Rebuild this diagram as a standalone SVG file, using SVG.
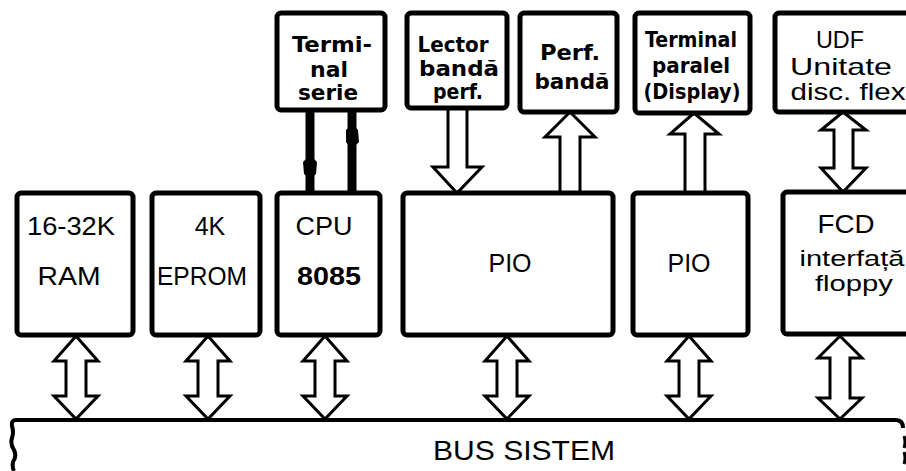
<svg xmlns="http://www.w3.org/2000/svg" width="906" height="471" viewBox="0 0 906 471">
<style>
.box{fill:#fff;stroke:#000;stroke-width:5;stroke-linejoin:round}
.arr{fill:#fff;stroke:#000;stroke-width:3;stroke-linejoin:miter}
.t{font-family:"Liberation Sans","DejaVu Sans",sans-serif;fill:#000;text-anchor:middle}
.m{font-size:25px}
.c{font-family:"DejaVu Sans Condensed","Liberation Sans",sans-serif;font-size:21px;font-weight:bold}
.u{font-size:24px}
.line{stroke:#000;stroke-width:9;fill:none}
</style>
<rect width="906" height="471" fill="#fff"/>

<g id="connectors">
  <line class="line" x1="310" y1="110" x2="310" y2="193"/>
  <line class="line" x1="352" y1="110" x2="352" y2="193"/>
  <path d="M310 155 L317 162 L316 174 L310 179 L304 174 L303 162 Z" fill="#000"/>
  <path d="M352 124 L358 130 L359 142 L352 149 L346 142 L346 130 Z" fill="#000"/>
  <path class="arr" d="M448 108 L448 167 L433 167 L457 193 L482 167 L467 167 L467 108 Z"/>
  <path class="arr" d="M560 193 L560 137 L545 137 L570 112 L595 137 L580 137 L580 193 Z"/>
  <path class="arr" d="M685 193 L685 134 L670 134 L694 113 L719 134 L705 134 L705 193 Z"/>
  <path class="arr" d="M843 112 L866 130 L853 130 L853 168 L866 168 L843 192 L821 168 L834 168 L834 130 L821 130 Z"/>
  <path class="arr" d="M76 336 L98 361 L86 361 L86 396 L98 396 L76 419 L54 396 L66 396 L66 361 L54 361 Z"/>
  <path class="arr" d="M208 336 L230 361 L218 361 L218 396 L230 396 L208 419 L186 396 L198 396 L198 361 L186 361 Z"/>
  <path class="arr" d="M325 336 L347 361 L335 361 L335 396 L347 396 L325 419 L303 396 L315 396 L315 361 L303 361 Z"/>
  <path class="arr" d="M507 336 L529 361 L517 361 L517 396 L529 396 L507 419 L485 396 L497 396 L497 361 L485 361 Z"/>
  <path class="arr" d="M689 336 L711 361 L699 361 L699 396 L711 396 L689 419 L667 396 L679 396 L679 361 L667 361 Z"/>
  <path class="arr" d="M840 336 L862 358 L850 358 L850 398 L862 398 L840 419 L818 398 L830 398 L830 358 L818 358 Z"/>
</g>

<g id="bus">
  <path d="M903 428 Q903 420 896 420 L16 420 Q11 420 12 426 Q14 432 12 438 Q10 444 14 450 Q17 456 13 462 Q12 467 14 471" fill="none" stroke="#000" stroke-width="4"/>
  <path d="M904 436 Q906 442 904 448 M904 452 Q906 458 904 464" fill="none" stroke="#000" stroke-width="3"/>
  <text class="t" x="524" y="460" font-size="27" textLength="182" lengthAdjust="spacingAndGlyphs">BUS  SISTEM</text>
</g>

<g id="terminal-serie">
  <rect class="box" x="277" y="13" width="108" height="97" rx="4"/>
  <text class="t c" x="332" y="52" textLength="80" lengthAdjust="spacingAndGlyphs">Termi-</text>
  <text class="t c" x="329" y="77" textLength="38" lengthAdjust="spacingAndGlyphs">nal</text>
  <text class="t c" x="328" y="100" textLength="60" lengthAdjust="spacingAndGlyphs">serie</text>
</g>
<g id="lector">
  <rect class="box" x="407" y="13" width="100" height="95" rx="4"/>
  <text class="t c" x="453" y="52" textLength="71" lengthAdjust="spacingAndGlyphs">Lector</text>
  <text class="t c" x="459" y="76" textLength="80" lengthAdjust="spacingAndGlyphs">bandă</text>
  <text class="t c" x="458" y="99" textLength="50" lengthAdjust="spacingAndGlyphs">perf.</text>
</g>
<g id="perf">
  <rect class="box" x="520" y="13" width="97" height="99" rx="4"/>
  <text class="t c" x="570" y="60" textLength="60" lengthAdjust="spacingAndGlyphs">Perf.</text>
  <text class="t c" x="572" y="89" textLength="75" lengthAdjust="spacingAndGlyphs">bandă</text>
</g>
<g id="terminal-paralel">
  <rect class="box" x="635" y="13" width="115" height="100" rx="4"/>
  <text class="t c" x="691" y="47" textLength="92" lengthAdjust="spacingAndGlyphs">Terminal</text>
  <text class="t c" x="691" y="73" textLength="78" lengthAdjust="spacingAndGlyphs">paralel</text>
  <text class="t c" x="692" y="99" textLength="97" lengthAdjust="spacingAndGlyphs">(Display)</text>
</g>
<g id="udf">
  <rect class="box" x="775" y="13" width="140" height="99" rx="4"/>
  <text class="t u" x="840" y="48" textLength="48" lengthAdjust="spacingAndGlyphs">UDF</text>
  <text class="t u" x="841" y="75" textLength="102" lengthAdjust="spacingAndGlyphs">Unitate</text>
  <text class="t u" x="848" y="100" textLength="115" lengthAdjust="spacingAndGlyphs">disc. flex</text>
</g>

<g id="ram">
  <rect class="box" x="17" y="193" width="116" height="142" rx="4"/>
  <text class="t m" x="71" y="235" textLength="88" lengthAdjust="spacingAndGlyphs">16-32K</text>
  <text class="t m" x="69" y="285" textLength="63" lengthAdjust="spacingAndGlyphs">RAM</text>
</g>
<g id="eprom">
  <rect class="box" x="152" y="193" width="108" height="142" rx="4"/>
  <text class="t m" x="210" y="235">4K</text>
  <text class="t m" x="202" y="285" textLength="90" lengthAdjust="spacingAndGlyphs">EPROM</text>
</g>
<g id="cpu">
  <rect class="box" x="277" y="193" width="103" height="142" rx="4"/>
  <text class="t m" x="324" y="235" textLength="57" lengthAdjust="spacingAndGlyphs">CPU</text>
  <text class="t m" x="329" y="285" font-weight="bold" textLength="64" lengthAdjust="spacingAndGlyphs">8085</text>
</g>
<g id="pio1">
  <rect class="box" x="403" y="193" width="210" height="142" rx="4"/>
  <text class="t m" x="510" y="272">PIO</text>
</g>
<g id="pio2">
  <rect class="box" x="633" y="193" width="115" height="142" rx="4"/>
  <text class="t m" x="689" y="272">PIO</text>
</g>
<g id="fcd">
  <rect class="box" x="783" y="192" width="140" height="142" rx="4"/>
  <text class="t m" x="846" y="233" textLength="57" lengthAdjust="spacingAndGlyphs">FCD</text>
  <text class="t" x="852" y="266" font-size="22" textLength="105" lengthAdjust="spacingAndGlyphs">interfață</text>
  <text class="t" x="854" y="291" font-size="22" textLength="78" lengthAdjust="spacingAndGlyphs">floppy</text>
</g>
</svg>
